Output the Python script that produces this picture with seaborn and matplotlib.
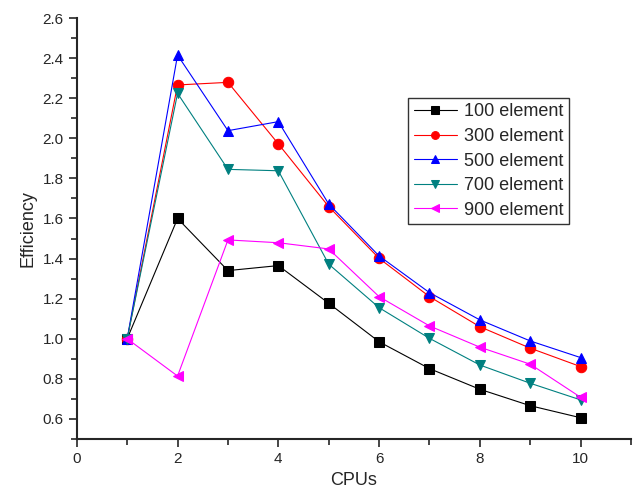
import numpy as np
import pandas as pd
import matplotlib
matplotlib.use("Agg")
import matplotlib.pyplot as plt
import seaborn as sns
from matplotlib.ticker import MultipleLocator

cpus = [1, 2, 3, 4, 5, 6, 7, 8, 9, 10]
eff_100 = [1.00, 1.60, 1.34, 1.365, 1.177, 0.985, 0.851, 0.748, 0.666, 0.606]
eff_300 = [1.00, 2.266, 2.279, 1.972, 1.659, 1.401, 1.21, 1.06, 0.953, 0.861]
eff_500 = [1.00, 2.415, 2.038, 2.083, 1.672, 1.413, 1.23, 1.094, 0.989, 0.906]
eff_700 = [1.00, 2.224, 1.845, 1.838, 1.372, 1.155, 1.002, 0.869, 0.778, 0.695]
eff_900 = [1.00, 0.814, 1.493, 1.479, 1.448, 1.21, 1.064, 0.958, 0.873, 0.708]
labels = ["100 element", "300 element", "500 element", "700 element", "900 element"]

series = [eff_100, eff_300, eff_500, eff_700, eff_900]
colors = ["black", "red", "blue", "#008080", "magenta"]
markers = ["s", "o", "^", "v", "<"]

sns.set_style("ticks")
plt.rcParams['font.family'] = ['Liberation Sans', 'DejaVu Sans']

fig = plt.figure(figsize=(6.4, 5), dpi=100)
ax = fig.add_axes([0.120, 0.122, 0.866, 0.842])

for vals, lab, c, m in zip(series, labels, colors, markers):
    df = pd.DataFrame({"CPUs": cpus, "Efficiency": vals})
    sns.lineplot(data=df, x="CPUs", y="Efficiency", ax=ax, color=c, marker=m,
                 markersize=7.5, markeredgecolor=c, linewidth=0.8, label=lab)

ax.set_xlim(0, 11)
ax.set_ylim(0.5, 2.6)
ax.xaxis.set_minor_locator(MultipleLocator(1))
ax.set_xticks([0, 2, 4, 6, 8, 10])
ax.yaxis.set_minor_locator(MultipleLocator(0.1))
ax.set_yticks(np.round(np.arange(0.6, 2.61, 0.2), 1))
ax.yaxis.set_major_formatter(matplotlib.ticker.FormatStrFormatter('%.1f'))
ax.tick_params(which='major', direction='out', length=6, width=1.2, labelsize=11)
ax.tick_params(which='minor', direction='out', length=4, width=1.2)
for s in ["left", "bottom"]:
    ax.spines[s].set_linewidth(1.5)
sns.despine(ax=ax)

ax.set_xlabel("CPUs", fontsize=13)
ax.set_ylabel("Efficiency", fontsize=13)

leg = ax.legend(loc="upper left", bbox_to_anchor=(0.598, 0.81), fontsize=13,
                frameon=True, fancybox=False, edgecolor="black",
                handlelength=2.4, labelspacing=0.42, borderpad=0.3,
                handletextpad=0.4, markerscale=0.75, borderaxespad=0)
leg.get_frame().set_linewidth(1.0)

fig.savefig("out.png", dpi=100)
